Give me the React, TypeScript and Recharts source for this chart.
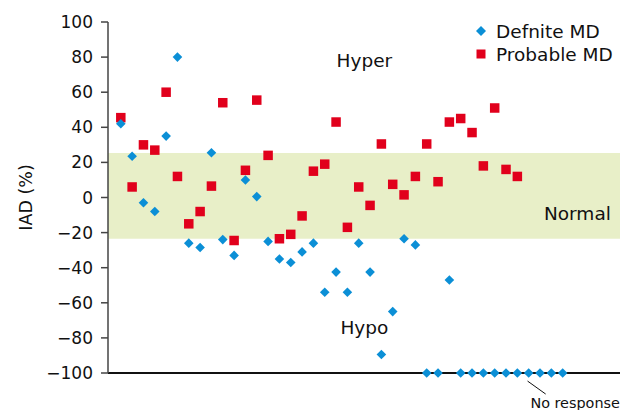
import React from 'react';
import {
  ScatterChart, Scatter, XAxis, YAxis, ReferenceArea, ReferenceDot, ReferenceLine, Legend,
} from 'recharts';

// y values by subject index
const definiteMD = [
  42, 23.5, -3, -8, 35, 80, -26, -28.5, 25.5, -24,
  -33, 10, 0.5, -25, -35, -37, -31, -26, -54, -42.5,
  -54, -26, -42.5, -89.5, -65, -23.5, -27, -100, -100, -47,
  -100, -100, -100, -100, -100, -100, -100, -100, -100, -100,
];
const probableMD = [
  45.5, 6, 30, 27, 60, 12, -15, -8, 6.5, 54,
  -24.5, 15.5, 55.5, 24, -23.5, -21, -10.5, 15, 19, 43,
  -17, 6, -4.5, 30.5, 7.5, 1.5, 12, 30.5, 9, 43,
  45, 37, 18, 51, 16, 12,
];
const yTicks = [-100, -80, -60, -40, -20, 0, 20, 40, 60, 80, 100];
const normalBand = [-23.5, 25.4];
const xDomain = [-1.13, 44.06];

const BLUE = '#0b8fd6';
const RED = '#e1001c';
const FONT = '"DejaVu Sans", Arial, sans-serif';

const definiteData = definiteMD.map((y, i) => ({ x: i, y }));
const probableData = probableMD.map((y, i) => ({ x: i, y }));

const Diamond = (props: any) => {
  const { cx, cy } = props;
  const r = 4.8;
  return <path d={`M${cx},${cy - r}L${cx + r},${cy}L${cx},${cy + r}L${cx - r},${cy}Z`} fill={BLUE} />;
};

const Square = (props: any) => {
  const { cx, cy } = props;
  const s = 9.5;
  return <rect x={cx - s / 2} y={cy - s / 2} width={s} height={s} fill={RED} />;
};

const LegendBox = () => (
  <div style={{ fontFamily: FONT, fontSize: 18.5, color: '#111', lineHeight: '23px' }}>
    <div style={{ display: 'flex', alignItems: 'center' }}>
      <svg width={22} height={12}>
        <path d="M7,1L12,6L7,11L2,6Z" fill={BLUE} />
      </svg>
      <span>Defnite MD</span>
    </div>
    <div style={{ display: 'flex', alignItems: 'center' }}>
      <svg width={22} height={12}>
        <rect x={2.5} y={1.5} width={9} height={9} fill={RED} />
      </svg>
      <span>Probable MD</span>
    </div>
  </div>
);

const textStyle = { fontFamily: FONT, fontSize: 18.5, fill: '#111' };

export default function App() {
  return (
    <div style={{ position: 'absolute', left: 0, top: 0, background: '#fff' }}>
      <ScatterChart width={632} height={410} margin={{ top: 22, right: 12, bottom: 30, left: 0 }}>
        <ReferenceArea y1={normalBand[0]} y2={normalBand[1]} fill="#e8efc8" fillOpacity={1} stroke="none" />
        <XAxis
          type="number"
          dataKey="x"
          domain={xDomain}
          ticks={xDomain}
          allowDataOverflow
          height={7}
          tick={false}
          tickSize={7}
          axisLine={{ stroke: '#111', strokeWidth: 2 }}
          tickLine={{ stroke: '#333', strokeWidth: 1.5 }}
        />
        <YAxis
          type="number"
          dataKey="y"
          domain={[-100, 100]}
          ticks={yTicks}
          width={108}
          tickSize={7}
          tickMargin={8}
          axisLine={{ stroke: '#444', strokeWidth: 1.5 }}
          tickLine={{ stroke: '#444', strokeWidth: 1.5 }}
          tick={{ fontFamily: FONT, fontSize: 17, fill: '#111' }}
          tickFormatter={(v: number) => (v < 0 ? `\u2212${Math.abs(v)}` : `${v}`)}
          label={{ value: 'IAD (%)', angle: -90, position: 'insideLeft', offset: 26, style: { textAnchor: 'middle', fontFamily: FONT, fontSize: 17.5, fill: '#111' } }}
        />
        <Scatter name="Probable MD" data={probableData} shape={<Square />} isAnimationActive={false} />
        <Scatter name="Defnite MD" data={definiteData} shape={<Diamond />} isAnimationActive={false} />
        <ReferenceDot x={21.5} y={78.3} r={0} stroke="none" label={{ value: 'Hyper', position: 'center', style: textStyle }} />
        <ReferenceDot x={21.5} y={-73.8} r={0} stroke="none" label={{ value: 'Hypo', position: 'center', style: textStyle }} />
        <ReferenceDot x={40.3} y={-8.8} r={0} stroke="none" label={{ value: 'Normal', position: 'center', style: textStyle }} />
        <ReferenceDot x={40.1} y={-117} r={0} stroke="none" ifOverflow="visible"
          label={{ value: 'No response', position: 'center', style: { fontFamily: FONT, fontSize: 14.4, fill: '#111' } }} />
        <ReferenceLine
          segment={[{ x: 35.9, y: -104.6 }, { x: 37.5, y: -112 }]}
          stroke="#111"
          strokeWidth={1}
          ifOverflow="visible"
        />
        <Legend
          layout="horizontal"
          align="center"
          verticalAlign="middle"
          content={() => <LegendBox />}
          wrapperStyle={{ top: 19.5, left: 474, width: 'auto' }}
        />
      </ScatterChart>
    </div>
  );
}
